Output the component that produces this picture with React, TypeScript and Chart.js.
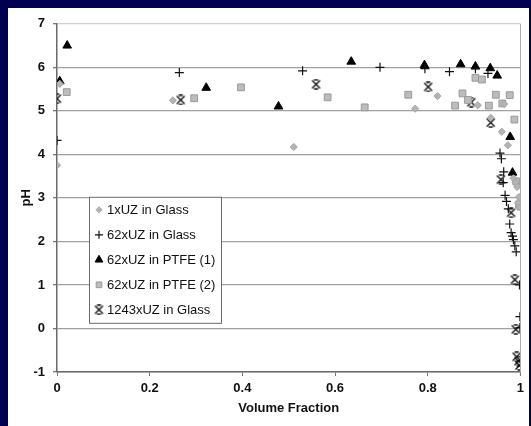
import React, { useEffect, useRef } from "react";
import { Chart, registerables } from "chart.js";
import { drawPoint } from "chart.js/helpers";

Chart.register(...registerables);

// ---- data ----
const seriesNames = [
  "1xUZ in Glass",
  "62xUZ in Glass",
  "62xUZ in PTFE (1)",
  "62xUZ in PTFE (2)",
  "1243xUZ in Glass",
];

const glass1X = [0, 0.006, 0.25, 0.511, 0.773, 0.821, 0.908, 0.936, 0.96, 0.965, 0.973, 0.985, 0.99, 0.993, 0.997, 0.995, 1.0];
const glass1Y = [3.75, 5.62, 5.24, 4.17, 5.05, 5.34, 5.13, 4.84, 4.52, 5.16, 4.21, 3.45, 3.35, 3.25, 3.02, 2.88, 2.78];

const glass62X = [0.0, 0.264, 0.53, 0.697, 0.794, 0.847, 0.903, 0.93, 0.956, 0.959, 0.964, 0.963, 0.967, 0.97, 0.974, 0.977, 0.98, 0.983, 0.985, 0.988, 0.991, 0.998, 0.999, 0.999];
const glass62Y = [4.32, 5.88, 5.92, 6.0, 5.97, 5.9, 5.97, 5.86, 4.03, 3.9, 3.6, 3.35, 3.06, 2.92, 2.75, 2.4, 2.2, 2.12, 2.04, 1.9, 1.76, 1.0, 0.27, 0.02];

const ptfe1X = [0.006, 0.022, 0.322, 0.478, 0.635, 0.793, 0.871, 0.903, 0.935, 0.95, 0.978, 0.983];
const ptfe1Y = [5.68, 6.5, 5.53, 5.1, 6.13, 6.05, 6.07, 6.02, 5.98, 5.81, 4.4, 3.58];

const ptfe2X = [0.021, 0.296, 0.397, 0.584, 0.664, 0.758, 0.859, 0.875, 0.887, 0.903, 0.917, 0.932, 0.947, 0.961, 0.977, 0.987, 0.991, 0.997, 1.0];
const ptfe2Y = [5.43, 5.29, 5.54, 5.31, 5.08, 5.37, 5.12, 5.4, 5.25, 5.76, 5.72, 5.12, 5.37, 5.17, 5.36, 4.8, 3.38, 2.85, 2.8];

const glass1243X = [0.0, 0.267, 0.559, 0.801, 0.894, 0.936, 0.958, 0.98, 0.988, 0.99, 0.992, 0.996, 0.998];
const glass1243Y = [5.28, 5.25, 5.61, 5.55, 5.2, 4.73, 3.42, 2.66, 1.12, -0.02, -0.65, -0.75, -0.85];

const xTickValues = [0, 0.2, 0.4, 0.6, 0.8, 1];
const xTickLabels = ["0", "0.2", "0.4", "0.6", "0.8", "1"];
const yTickValues = [-1, 0, 1, 2, 3, 4, 5, 6, 7];
const yTickLabels = ["-1", "0", "1", "2", "3", "4", "5", "6", "7"];

const FONT = "'Liberation Sans', Arial, sans-serif";

function zip(xs: number[], ys: number[]) {
  return xs.map((x, i) => ({ x, y: ys[i] }));
}

function makeStarMarker(): HTMLCanvasElement {
  const c = document.createElement("canvas");
  c.width = 11;
  c.height = 11;
  const g = c.getContext("2d")!;
  g.strokeStyle = "#111";
  g.lineWidth = 1.4;
  g.beginPath();
  g.moveTo(1.5, 1.5);
  g.lineTo(9.5, 9.5);
  g.moveTo(9.5, 1.5);
  g.lineTo(1.5, 9.5);
  g.moveTo(3.5, 1);
  g.lineTo(7.5, 1);
  g.moveTo(3.5, 10);
  g.lineTo(7.5, 10);
  g.stroke();
  return c;
}

const frameLegendPlugin = {
  id: "frameLegend",
  afterDraw(chart: any) {
    const { ctx, chartArea } = chart;
    ctx.save();
    // right frame
    ctx.strokeStyle = "#b0b0b0";
    ctx.lineWidth = 1;
    ctx.beginPath();
    ctx.moveTo(Math.round(chartArea.right) + 0.5, chartArea.top);
    ctx.lineTo(Math.round(chartArea.right) + 0.5, chartArea.bottom);
    ctx.stroke();

    // legend box
    const bx = chartArea.left + 32;
    const by = chartArea.top + 173;
    const bw = 132;
    const bh = 126;
    ctx.fillStyle = "#ffffff";
    ctx.fillRect(bx, by, bw, bh);
    ctx.strokeStyle = "#6a6a6a";
    ctx.lineWidth = 1;
    ctx.strokeRect(bx + 0.5, by + 0.5, bw, bh);

    ctx.font = `13px ${FONT}`;
    ctx.textBaseline = "middle";
    ctx.textAlign = "left";
    chart.data.datasets.forEach((ds: any, i: number) => {
      const cy = by + 13 + i * 25;
      const cx = bx + 10;
      ctx.fillStyle = ds.backgroundColor;
      ctx.strokeStyle = ds.borderColor;
      ctx.lineWidth = ds.borderWidth;
      drawPoint(
        ctx,
        { pointStyle: ds.pointStyle, radius: ds.legendRadius, rotation: 0, borderWidth: ds.borderWidth },
        cx,
        cy
      );
      ctx.fillStyle = "#111";
      ctx.fillText(ds.label, bx + 18, cy + 1);
    });
    ctx.restore();
  },
};

export default function App() {
  const ref = useRef<HTMLCanvasElement>(null);

  useEffect(() => {
    document.body.style.margin = "0";
    document.body.style.background = "#000050";
    document.body.style.overflow = "hidden";
    const star = makeStarMarker();
    const chart = new Chart(ref.current!, {
      type: "scatter",
      data: {
        datasets: [
          {
            label: seriesNames[0],
            data: zip(glass1X, glass1Y),
            pointStyle: "rectRot",
            pointRadius: 3.6,
            legendRadius: 3,
            backgroundColor: "#b4b4b4",
            borderColor: "#a4a4a4",
            borderWidth: 1,
          } as any,
          {
            label: seriesNames[1],
            data: zip(glass62X, glass62Y),
            pointStyle: "cross",
            pointRadius: 4.5,
            legendRadius: 4,
            backgroundColor: "#111",
            borderColor: "#111",
            borderWidth: 1.2,
          } as any,
          {
            label: seriesNames[2],
            data: zip(ptfe1X, ptfe1Y),
            pointStyle: "triangle",
            pointRadius: 5,
            legendRadius: 4.5,
            backgroundColor: "#000",
            borderColor: "#000",
            borderWidth: 1,
          } as any,
          {
            label: seriesNames[3],
            data: zip(ptfe2X, ptfe2Y),
            pointStyle: "rect",
            pointRadius: 4.8,
            legendRadius: 4,
            backgroundColor: "#bcbcbc",
            borderColor: "#9a9a9a",
            borderWidth: 1,
          } as any,
          {
            label: seriesNames[4],
            data: zip(glass1243X, glass1243Y),
            pointStyle: star,
            pointRadius: 5,
            legendRadius: 5,
            backgroundColor: "#111",
            borderColor: "#111",
            borderWidth: 1,
          } as any,
        ],
      },
      options: {
        responsive: false,
        animation: false,
        devicePixelRatio: 1,
        layout: { padding: { top: 11, right: 7, left: 0, bottom: 0 } },
        plugins: { legend: { display: false }, tooltip: { enabled: false } },
        scales: {
          x: {
            type: "linear",
            min: 0,
            max: 1,
            afterBuildTicks: (scale: any) => {
              scale.ticks = xTickValues.map((v) => ({ value: v }));
            },
            afterFit: (scale: any) => {
              scale.height = 54;
            },
            ticks: {
              callback: (v: any) => xTickLabels[xTickValues.indexOf(Number(v))] ?? "",
              font: { family: FONT, size: 13, weight: "bold" },
              color: "#111",
              padding: 5,
              maxRotation: 0,
            },
            grid: { drawOnChartArea: false, drawTicks: true, tickLength: 4, tickColor: "#777" },
            border: { color: "#6a6a6a", width: 1.5 },
            title: {
              display: true,
              text: "Volume Fraction",
              font: { family: FONT, size: 13, weight: "bold" },
              color: "#111",
              padding: { top: 0, bottom: 10 },
            },
          },
          y: {
            type: "linear",
            min: -1,
            max: 7,
            afterBuildTicks: (scale: any) => {
              scale.ticks = yTickValues.map((v) => ({ value: v }));
            },
            afterFit: (scale: any) => {
              scale.width = 49;
            },
            ticks: {
              callback: (v: any) => yTickLabels[yTickValues.indexOf(Number(v))] ?? "",
              font: { family: FONT, size: 13, weight: "bold" },
              color: "#111",
              padding: 8,
            },
            grid: {
              color: (c: any) => (c.tick && c.tick.value === 7 ? "#cfcfcf" : "#a0a0a0"),
              lineWidth: 1.3,
              drawTicks: true,
              tickLength: 4,
              tickColor: "#777",
            },
            border: { color: "#6a6a6a", width: 1.5 },
            title: {
              display: true,
              text: "pH",
              font: { family: FONT, size: 13, weight: "bold" },
              color: "#111",
              padding: { top: 11, bottom: 0 },
            },
          },
        },
      },
      plugins: [frameLegendPlugin],
    } as any);
    return () => chart.destroy();
  }, []);

  return (
    <div style={{ position: "absolute", left: 8, top: 8, width: 521, height: 418, background: "#ffffff" }}>
      <canvas ref={ref} width={521} height={418} style={{ display: "block" }} />
    </div>
  );
}
